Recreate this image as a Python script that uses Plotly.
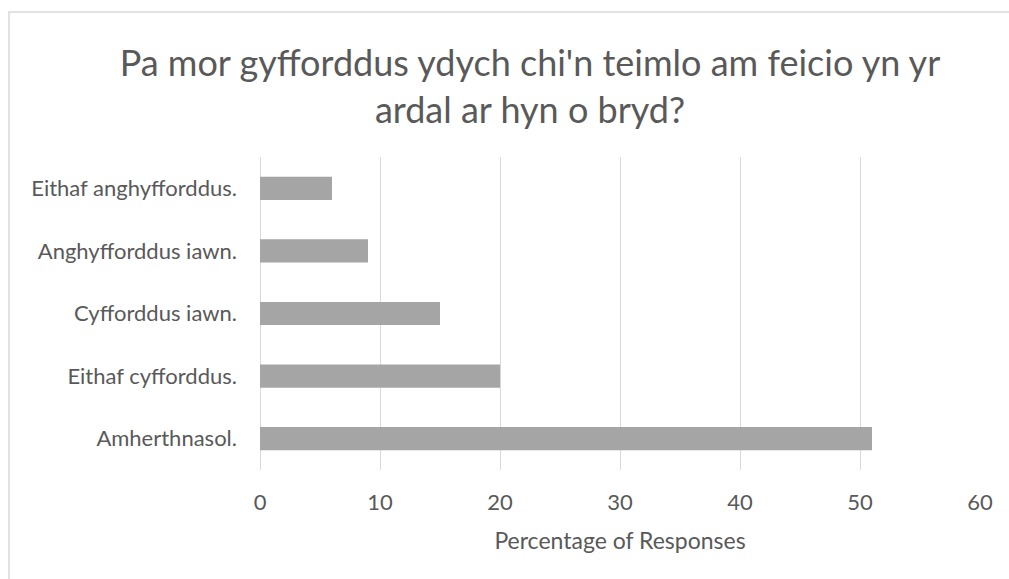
import plotly.graph_objects as go

# Data (bottom to top as drawn)
categories = ["Amherthnasol.", "Eithaf cyfforddus.", "Cyfforddus iawn.",
              "Anghyfforddus iawn.", "Eithaf anghyfforddus."]
percentages = [51, 20, 15, 9, 6]
x_ticks = [0, 10, 20, 30, 40, 50, 60]

TEXT = "#595959"
GRID = "#d9d9d9"
BAR = "#a5a5a5"
FONT = "Lato"

fig = go.Figure()

fig.add_trace(
    go.Bar(
        x=percentages,
        y=categories,
        orientation="h",
        marker=dict(color=BAR, line=dict(width=0)),
        showlegend=False,
    )
)

fig.update_layout(
    width=1009,
    height=579,
    paper_bgcolor="white",
    plot_bgcolor="white",
    bargap=0.63,
    margin=dict(l=260, r=29, t=157, b=109),
    font=dict(family=FONT, color=TEXT, size=22),
    title=dict(
        text="Pa mor gyfforddus ydych chi'n teimlo am feicio yn yr<br>ardal ar hyn o bryd?",
        font=dict(family=FONT, size=36, color=TEXT),
        x=530 / 1009,
        xanchor="center",
        y=1 - 76 / 579,
        yanchor="top",
    ),
)

fig.update_xaxes(
    range=[0, 60],
    tickvals=x_ticks,
    showgrid=True,
    gridcolor=GRID,
    gridwidth=1,
    zeroline=True,
    zerolinecolor=GRID,
    zerolinewidth=1,
    showline=False,
    ticks="",
    ticklabelstandoff=17,
    tickfont=dict(size=22, color=TEXT),
    title=dict(text="Percentage of Responses", font=dict(size=23, color=TEXT), standoff=18),
)

fig.update_yaxes(
    showgrid=False,
    showline=False,
    ticks="",
    ticklabelstandoff=22,
    tickfont=dict(size=22, color=TEXT),
)

# chart frame
fig.add_shape(
    type="rect",
    xref="paper", yref="paper",
    x0=(9 - 260) / 720, x1=(1012 - 260) / 720,
    y0=-(582 - 470) / 313, y1=1 + (157 - 12) / 313,
    line=dict(color=GRID, width=1.5),
    fillcolor="rgba(0,0,0,0)",
    layer="below",
)

# page body margin off so the figure sits at the window origin
fig.write_html(
    "out.html",
    config={"displayModeBar": False},
    post_script="document.body.style.margin='0';",
)
